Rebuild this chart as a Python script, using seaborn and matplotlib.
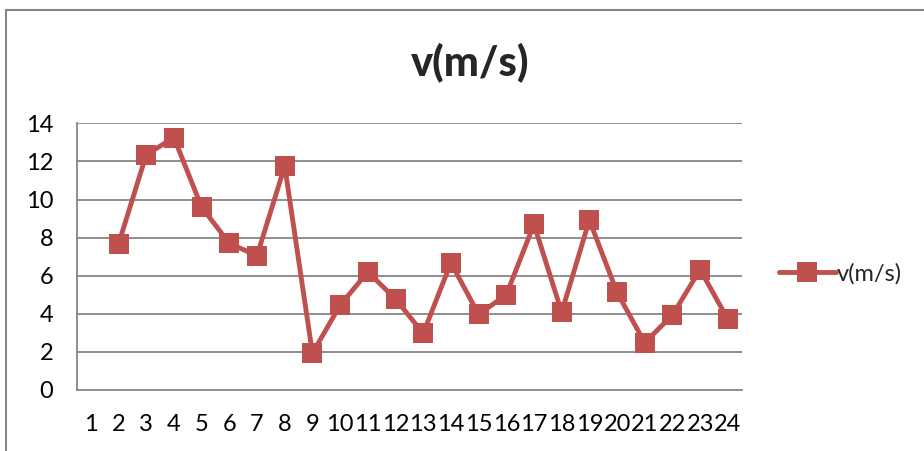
import matplotlib
matplotlib.use("Agg")
import matplotlib.pyplot as plt
import seaborn as sns
import pandas as pd
import numpy as np
from matplotlib.patches import Rectangle
from matplotlib.lines import Line2D

categories = list(range(1, 25))
days = list(range(2, 25))
speed = [7.66, 12.35, 13.25, 9.6, 7.7, 7.05, 11.75, 1.93, 4.45, 6.2, 4.78, 2.97,
         6.68, 3.97, 5.0, 8.7, 4.08, 8.92, 5.12, 2.48, 3.94, 6.32, 3.71]
series_name = "v(m/s)"
yticks = [0, 2, 4, 6, 8, 10, 12, 14]

sns.set_theme(style="white")
plt.rcParams['font.family'] = ['Lato', 'DejaVu Sans']

color = "#C0504D"
grid_c = "#868686"

fig = plt.figure(figsize=(9.24, 4.51), dpi=100)
ax = fig.add_axes([77/924, 1 - 390/451, (741.7 - 77)/924, (390 - 123.3)/451])

df = pd.DataFrame({"day": days, series_name: speed})
sns.lineplot(data=df, x="day", y=series_name, ax=ax, color=color, lw=3.5,
             marker="s", markersize=14.5, markeredgewidth=0, legend=False, zorder=3)

ax.set_xlim(0.5, 24.5)
ax.set_ylim(0, 14)
ax.set_yticks(yticks)
ax.set_yticklabels([str(v) for v in yticks], fontsize=17)
ax.set_xticks(categories)
ax.set_xticklabels([str(c) for c in categories], fontsize=17)
ax.set_xticks(np.arange(0.5, 25, 1), minor=True)
ax.tick_params(axis='x', which='major', length=0, pad=17)
ax.tick_params(axis='x', which='minor', length=6, width=1.3, color=grid_c, direction='out')
ax.tick_params(axis='y', which='major', length=6, width=1.3, color=grid_c, direction='out', pad=11)
ax.tick_params(labelcolor="black")
for y in yticks[1:]:
    ax.axhline(y, color=grid_c, lw=1.3, zorder=1)
for s in ['top', 'right']:
    ax.spines[s].set_visible(False)
for s in ['left', 'bottom']:
    ax.spines[s].set_color(grid_c)
    ax.spines[s].set_linewidth(1.3)
ax.set_xlabel("")
ax.set_ylabel("")

fig.text(470/924, 1 - 62/451, series_name, ha='center', va='center',
         fontsize=30, fontweight='black')

handle = Line2D([], [], color=color, lw=3.5, marker='s', markersize=14.5, markeredgewidth=0)
fig.legend([handle], [series_name], loc='center left', bbox_to_anchor=(779/924, 1 - 274/451),
           frameon=False, fontsize=17, handlelength=2.4, handletextpad=0.05, borderaxespad=0,
           borderpad=0)

fig.patches.append(Rectangle((6/924, -0.1), 1.1, 1 - 10/451 + 0.1, transform=fig.transFigure,
                             fill=False, edgecolor=grid_c, lw=1.5))

fig.savefig("out.png", dpi=100)
